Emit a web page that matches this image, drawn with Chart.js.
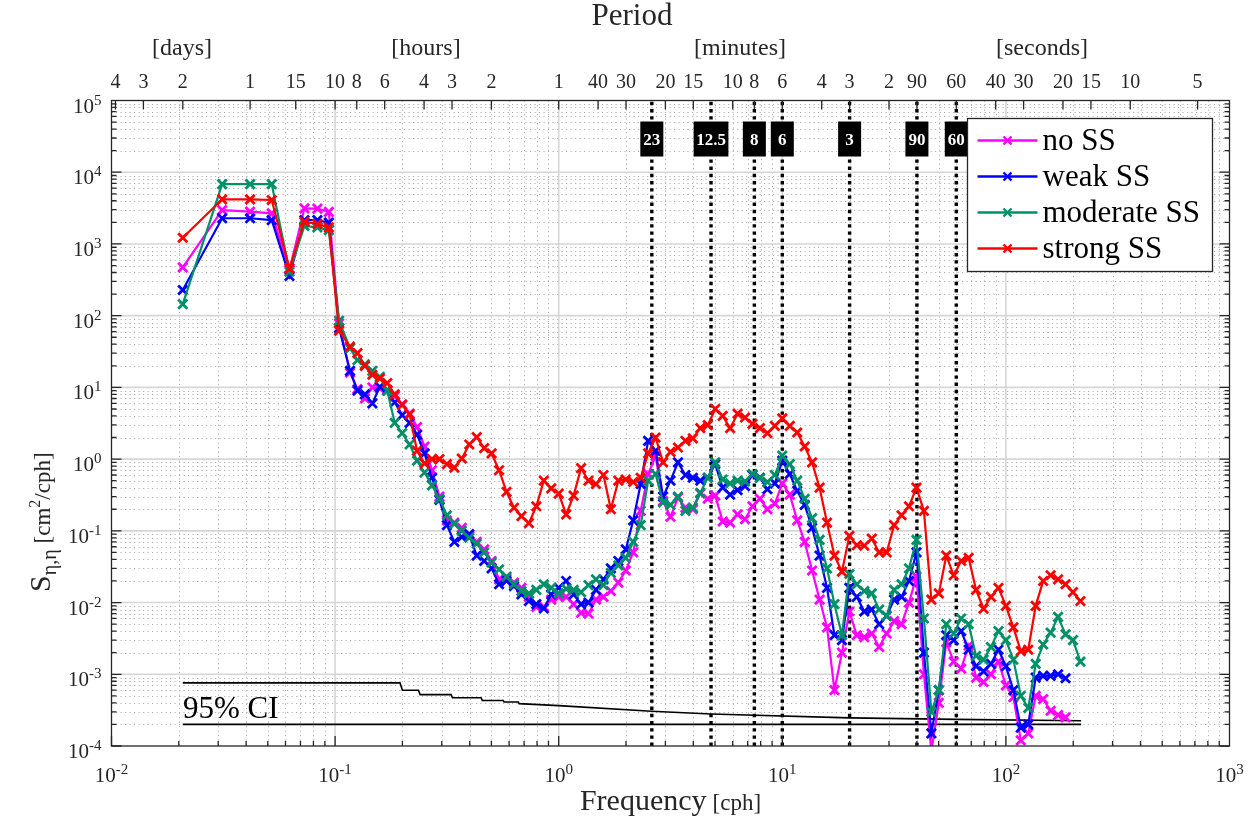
<!DOCTYPE html>
<html>
<head>
<meta charset="utf-8">
<script src="https://cdn.jsdelivr.net/npm/chart.js@4.4.1/dist/chart.umd.min.js"></script>
<style>
  html, body { margin: 0; padding: 0; background: #fff; }
  #wrap { width: 1255px; height: 822px; }
</style>
</head>
<body>
<div id="wrap"><canvas id="spec" width="1255" height="822"></canvas></div>
<script>
// frequency grid [cph]
const freqCph = [
  0.02083, 0.03125, 0.04167, 0.05208, 0.0625, 0.07292, 0.08333, 0.09375, 0.1042,
  0.1166, 0.1259, 0.1359, 0.1468, 0.1585, 0.1711, 0.1848, 0.1995, 0.2154, 0.2326,
  0.2512, 0.2712, 0.2929, 0.3162, 0.3415, 0.3687, 0.3981, 0.4299, 0.4642, 0.5012,
  0.5412, 0.5843, 0.6310, 0.6813, 0.7356, 0.7943, 0.8577, 0.9261,
  1.000, 1.080, 1.166, 1.259, 1.359, 1.468, 1.585, 1.711, 1.848, 1.995,
  2.154, 2.326, 2.512, 2.712, 2.929, 3.162, 3.415, 3.687, 3.981, 4.299,
  4.642, 5.012, 5.412, 5.843, 6.310, 6.813, 7.356, 7.943, 8.577, 9.261,
  10.00, 10.80, 11.66, 12.59, 13.59, 14.68, 15.85, 17.11, 18.48, 19.95,
  21.54, 23.26, 25.12, 27.12, 29.29, 31.62, 34.15, 36.87, 39.81, 42.99,
  46.42, 50.12, 54.12, 58.43, 63.10, 68.13, 73.56, 79.43, 85.77, 92.61,
  100.0, 108.0, 116.6, 125.9, 135.9, 146.8, 158.5, 171.1, 184.8, 199.5, 215.4
];

const noSS = [
  472, 2970, 2820, 2670, 432, 3140, 3100, 2800, 78,
  16, 9.5, 7, 10, 9.7, 9.2, 7.5, 5.8, 4.3, 2.8,
  1.5, 0.7, 0.3, 0.14, 0.13, 0.11, 0.085, 0.07, 0.055, 0.038,
  0.021, 0.0215, 0.019, 0.016, 0.012, 0.0087, 0.0087, 0.011,
  0.012, 0.012, 0.0095, 0.0072, 0.007, 0.011, 0.012, 0.0145, 0.019, 0.028,
  0.05, 0.19, 0.62, 1.1, 0.26, 0.157, 0.29, 0.21, 0.2, 0.33,
  0.28, 0.31, 0.135, 0.13, 0.17, 0.145, 0.22, 0.28, 0.2, 0.24,
  0.46, 0.32, 0.14, 0.07, 0.028, 0.011, 0.0045, 0.0006, 0.002, 0.0075,
  0.0035, 0.0033, 0.0037, 0.0024, 0.0037, 0.0055, 0.005, 0.01, 0.023, 0.001,
  0.000085, 0.0004, 0.0028, 0.0015, 0.0012, 0.0025, 0.0009, 0.00078, 0.001, 0.0015,
  0.0007, 0.00048, 0.00012, 0.00015, 0.0005, 0.00045, 0.00031, 0.00027, 0.00025, null, null
];

const weakSS = [
  228, 2280, 2280, 2150, 357, 2150, 2150, 1980, 67,
  17, 9.0, 8.0, 6.0, 10.2, 9, 6.2, 4.1, 3.2, 2.2,
  1.2, 0.55, 0.27, 0.12, 0.07, 0.082, 0.09, 0.045, 0.038, 0.03,
  0.018, 0.02, 0.017, 0.013, 0.0105, 0.0095, 0.0083, 0.013,
  0.016, 0.02, 0.013, 0.0095, 0.01, 0.015, 0.021, 0.03, 0.038, 0.055,
  0.14, 0.45, 1.8, 1.3, 0.3, 0.5, 0.9, 0.6, 0.55, 0.5,
  0.55, 0.85, 0.4, 0.32, 0.37, 0.42, 0.6, 0.55, 0.38, 0.46,
  0.95, 0.62, 0.36, 0.23, 0.11, 0.045, 0.016, 0.0035, 0.003, 0.016,
  0.012, 0.0075, 0.008, 0.005, 0.0065, 0.011, 0.012, 0.02, 0.05, 0.002,
  0.00015, 0.0006, 0.0035, 0.003, 0.004, 0.0022, 0.0013, 0.0011, 0.0014, 0.0022,
  0.0013, 0.0006, 0.00018, 0.0002, 0.0009, 0.00095, 0.00095, 0.001, 0.00088, null, null
];

const moderateSS = [
  145, 6840, 6840, 6840, 410, 1780, 1700, 1560, 85,
  35, 24, 21, 17, 14, 9, 3.2, 2.3, 1.6, 0.95,
  0.65, 0.43, 0.28, 0.165, 0.125, 0.1, 0.08, 0.066, 0.05, 0.036,
  0.029, 0.023, 0.018, 0.0145, 0.0134, 0.015, 0.018, 0.016,
  0.0134, 0.0155, 0.015, 0.014, 0.0175, 0.021, 0.0175, 0.026, 0.033, 0.042,
  0.07, 0.12, 0.5, 0.62, 0.25, 0.23, 0.3, 0.19, 0.21, 0.34,
  0.55, 0.9, 0.52, 0.46, 0.5, 0.49, 0.62, 0.55, 0.48, 0.6,
  1.12, 0.85, 0.5, 0.28, 0.15, 0.075, 0.03, 0.0095, 0.0035, 0.025,
  0.018, 0.0145, 0.0134, 0.008, 0.0065, 0.015, 0.018, 0.03, 0.075, 0.006,
  0.0003, 0.0006, 0.005, 0.0037, 0.006, 0.005, 0.0018, 0.0016, 0.0024, 0.004,
  0.003, 0.0016, 0.0005, 0.00034, 0.0014, 0.0026, 0.0038, 0.0063, 0.0036, 0.003, 0.0015
];

const strongSS = [
  1220, 4190, 4190, 4100, 457, 2040, 1900, 1700, 62,
  37, 30, 20, 15, 13.3, 11.5, 8, 5.7, 4.2, 1.3,
  0.87, 1.0, 1.0, 0.85, 0.76, 1.02, 1.6, 2.02, 1.42, 1.2,
  0.7, 0.35, 0.21, 0.16, 0.128, 0.22, 0.5, 0.39,
  0.33, 0.17, 0.31, 0.75, 0.5, 0.45, 0.6, 0.2, 0.5, 0.52,
  0.48, 0.55, 1.2, 2.0, 0.9, 1.26, 1.45, 1.8, 1.95, 2.7,
  2.98, 5.0, 4.0, 2.7, 4.3, 3.8, 3.1, 2.7, 2.3, 2.9,
  3.7, 2.9, 2.35, 1.5, 0.9, 0.4, 0.13, 0.045, 0.027, 0.085,
  0.063, 0.062, 0.078, 0.05, 0.05, 0.12, 0.165, 0.22, 0.4, 0.19,
  0.011, 0.0134, 0.045, 0.024, 0.038, 0.042, 0.015, 0.0082, 0.012, 0.016,
  0.009, 0.0045, 0.0021, 0.0022, 0.009, 0.02, 0.024, 0.021, 0.018, 0.014, 0.0105
];

// 95% confidence interval bars
const ciFreq = [0.02083, 0.195, 0.2, 0.236, 0.24, 0.33, 0.335, 0.45, 0.455, 0.565, 0.57, 0.66, 0.665, 1.0, 2.6, 4.8, 20, 60, 217];
const ciUpper = [7.6e-4, 7.6e-4, 6.0e-4, 6.0e-4, 5.2e-4, 5.2e-4, 4.7e-4, 4.7e-4, 4.3e-4, 4.3e-4, 4.1e-4, 4.1e-4, 3.9e-4, 3.65e-4, 3.05e-4, 2.8e-4, 2.47e-4, 2.35e-4, 2.25e-4];
const ciLowFreq = [0.02083, 217];
const ciLower = [2.0e-4, 2.0e-4];

// marked periods (dotted lines)
const markFreq = [2.609, 4.8, 7.5, 10, 20, 40, 60];
const markLabels = ['23', '12.5', '8', '6', '3', '90', '60'];

// top axis period ticks
const periodDays = [4, 3, 2, 1];
const periodHours = [15, 10, 8, 6, 4, 3, 2, 1];
const periodMinutes = [40, 30, 20, 15, 10, 8, 6, 4, 3, 2];
const periodSeconds = [90, 60, 40, 30, 20, 15, 10, 5];

const FONT = '"Liberation Serif", "Times New Roman", serif';
const INK = '#262626';

const series = [
  { label: 'no SS', values: noSS, color: '#ff00ff', order: 4 },
  { label: 'weak SS', values: weakSS, color: '#0000ff', order: 3 },
  { label: 'moderate SS', values: moderateSS, color: '#009068', order: 2 },
  { label: 'strong SS', values: strongSS, color: '#ff0000', order: 1 }
];

function seg(ctx, x1, y1, x2, y2) {
  ctx.beginPath();
  ctx.moveTo(x1, y1);
  ctx.lineTo(x2, y2);
  ctx.stroke();
}

function pow10Label(ctx, n, x, yBase, align) {
  ctx.font = '21px ' + FONT;
  const bw = ctx.measureText('10').width;
  ctx.font = '15px ' + FONT;
  const sw = ctx.measureText(String(n)).width;
  const x0 = align === 'right' ? x - bw - sw : x - (bw + sw) / 2;
  ctx.textAlign = 'left';
  ctx.textBaseline = 'alphabetic';
  ctx.font = '21px ' + FONT;
  ctx.fillText('10', x0, yBase);
  ctx.font = '15px ' + FONT;
  ctx.fillText(String(n), x0 + bw, yBase - 8);
}

const framePlugin = {
  id: 'frame',
  beforeDatasetsDraw(chart) {
    const { ctx, chartArea: a } = chart;
    const xs = chart.scales.x, ys = chart.scales.y;
    ctx.save();
    // minor grid
    ctx.lineWidth = 1;
    ctx.strokeStyle = '#b0b0b0';
    ctx.setLineDash([1.2, 3.3]);
    for (let d = -2; d < 3; d++) {
      for (let m = 2; m <= 9; m++) {
        const px = Math.round(xs.getPixelForValue(m * Math.pow(10, d))) + 0.5;
        seg(ctx, px, a.top, px, a.bottom);
      }
    }
    for (let d = -4; d < 5; d++) {
      for (let m = 2; m <= 9; m++) {
        const py = Math.round(ys.getPixelForValue(m * Math.pow(10, d))) + 0.5;
        seg(ctx, a.left, py, a.right, py);
      }
    }
    // major grid
    ctx.setLineDash([]);
    ctx.strokeStyle = '#d6d6d6';
    ctx.lineWidth = 1.6;
    for (let d = -1; d < 3; d++) {
      const px = xs.getPixelForValue(Math.pow(10, d));
      seg(ctx, px, a.top, px, a.bottom);
    }
    for (let d = -3; d < 5; d++) {
      const py = ys.getPixelForValue(Math.pow(10, d));
      seg(ctx, a.left, py, a.right, py);
    }
    // marked periods
    ctx.strokeStyle = '#000';
    ctx.lineWidth = 3.4;
    ctx.setLineDash([3.4, 3.8]);
    markFreq.forEach(f => {
      const px = xs.getPixelForValue(f);
      seg(ctx, px, a.bottom, px, a.top);
    });
    ctx.restore();
  },
  afterDatasetsDraw(chart) {
    const { ctx, chartArea: a } = chart;
    const xs = chart.scales.x, ys = chart.scales.y;
    ctx.save();

    // labels of the marked periods
    ctx.font = 'bold 17px ' + FONT;
    ctx.textAlign = 'center';
    ctx.textBaseline = 'middle';
    markFreq.forEach((f, i) => {
      const px = xs.getPixelForValue(f);
      const w = Math.max(23, ctx.measureText(markLabels[i]).width + 5);
      ctx.fillStyle = '#000';
      ctx.fillRect(px - w / 2, a.top + 21, w, 35);
      ctx.fillStyle = '#fff';
      ctx.fillText(markLabels[i], px, a.top + 40);
    });

    // CI label
    ctx.fillStyle = '#000';
    ctx.font = '31px ' + FONT;
    ctx.textAlign = 'left';
    ctx.textBaseline = 'alphabetic';
    ctx.fillText('95% CI', 183, 718);

    // axes box and ticks
    ctx.strokeStyle = INK;
    ctx.lineWidth = 1.3;
    ctx.strokeRect(a.left, a.top, a.right - a.left, a.bottom - a.top);
    ctx.beginPath();
    for (let d = -2; d <= 2; d++) {
      for (let m = 1; m <= 9; m++) {
        const px = xs.getPixelForValue(m * Math.pow(10, d));
        const len = m === 1 ? 10 : 5;
        ctx.moveTo(px, a.bottom);
        ctx.lineTo(px, a.bottom - len);
      }
    }
    for (let d = -4; d <= 4; d++) {
      for (let m = 1; m <= 9; m++) {
        const py = ys.getPixelForValue(m * Math.pow(10, d));
        const len = m === 1 ? 10 : 5;
        ctx.moveTo(a.left, py);
        ctx.lineTo(a.left + len, py);
        ctx.moveTo(a.right, py);
        ctx.lineTo(a.right - len, py);
      }
    }
    ctx.stroke();

    // top period axis
    const periodTicks = [];
    periodDays.forEach(v => periodTicks.push([1 / (24 * v), v]));
    periodHours.forEach(v => periodTicks.push([1 / v, v]));
    periodMinutes.forEach(v => periodTicks.push([60 / v, v]));
    periodSeconds.forEach(v => periodTicks.push([3600 / v, v]));
    ctx.beginPath();
    periodTicks.forEach(([f]) => {
      const px = xs.getPixelForValue(f);
      ctx.moveTo(px, a.top);
      ctx.lineTo(px, a.top + 9);
    });
    ctx.stroke();
    ctx.fillStyle = INK;
    ctx.font = '20px ' + FONT;
    ctx.textAlign = 'center';
    ctx.textBaseline = 'alphabetic';
    periodTicks.forEach(([f, v]) => {
      ctx.fillText(String(v), xs.getPixelForValue(f), a.top - 13);
    });
    ctx.font = '24px ' + FONT;
    ctx.fillText('[days]', 182, 55);
    ctx.fillText('[hours]', 426, 55);
    ctx.fillText('[minutes]', 740, 55);
    ctx.fillText('[seconds]', 1042, 55);
    ctx.font = '31px ' + FONT;
    ctx.fillText('Period', 632, 25);

    // tick labels
    for (let n = -4; n <= 5; n++) {
      pow10Label(ctx, n, a.left - 10, ys.getPixelForValue(Math.pow(10, n)) + 12, 'right');
    }
    for (let n = -2; n <= 3; n++) {
      pow10Label(ctx, n, xs.getPixelForValue(Math.pow(10, n)), a.bottom + 36, 'center');
    }

    // x title
    ctx.textAlign = 'left';
    ctx.font = '30px ' + FONT;
    const wF = ctx.measureText('Frequency').width;
    ctx.font = '23px ' + FONT;
    const wC = ctx.measureText('[cph]').width;
    const xStart = (a.left + a.right) / 2 - (wF + 6 + wC) / 2;
    ctx.font = '30px ' + FONT;
    ctx.fillText('Frequency', xStart, 810);
    ctx.font = '23px ' + FONT;
    ctx.fillText('[cph]', xStart + wF + 6, 810);

    // y title (rotated)
    ctx.save();
    ctx.translate(50, 592);
    ctx.rotate(-Math.PI / 2);
    let tx = 0;
    ctx.font = '30px ' + FONT;
    ctx.fillText('S', tx, 0);
    tx += ctx.measureText('S').width;
    ctx.font = '20px ' + FONT;
    ctx.fillText('\u03b7,\u03b7', tx, 6);
    tx += ctx.measureText('\u03b7,\u03b7').width + 6;
    ctx.font = '23px ' + FONT;
    ctx.fillText('[cm', tx, 0);
    tx += ctx.measureText('[cm').width;
    ctx.font = '16px ' + FONT;
    ctx.fillText('2', tx, -10);
    tx += ctx.measureText('2').width;
    ctx.font = '23px ' + FONT;
    ctx.fillText('/cph]', tx, 0);
    ctx.restore();

    // legend
    const lx = a.right - 262, ly = a.top + 18, lw = 245, lh = 153;
    ctx.fillStyle = '#fff';
    ctx.fillRect(lx, ly, lw, lh);
    ctx.strokeStyle = INK;
    ctx.lineWidth = 1.3;
    ctx.strokeRect(lx, ly, lw, lh);
    ctx.font = '31px ' + FONT;
    ctx.textBaseline = 'middle';
    series.forEach((s, i) => {
      const ry = ly + 22 + i * 36;
      ctx.strokeStyle = s.color;
      ctx.lineWidth = 2.4;
      seg(ctx, lx + 10, ry, lx + 70, ry);
      seg(ctx, lx + 36, ry - 4, lx + 44, ry + 4);
      seg(ctx, lx + 36, ry + 4, lx + 44, ry - 4);
      ctx.fillStyle = '#000';
      ctx.fillText(s.label, lx + 75, ry + 1);
    });

    ctx.restore();
  }
};

const datasets = series.map(s => ({
  label: s.label,
  data: freqCph.map((f, i) => ({ x: f, y: s.values[i] })),
  borderColor: s.color,
  backgroundColor: s.color,
  borderWidth: 2.2,
  pointStyle: 'crossRot',
  pointRadius: 6.5,
  pointBorderWidth: 2.8,
  pointBorderColor: s.color,
  fill: false,
  tension: 0,
  spanGaps: false,
  order: s.order
}));

datasets.push({
  label: 'CI upper',
  data: ciFreq.map((f, i) => ({ x: f, y: ciUpper[i] })),
  borderColor: '#000',
  borderWidth: 1.6,
  pointRadius: 0,
  fill: false,
  order: 6
});
datasets.push({
  label: 'CI lower',
  data: ciLowFreq.map((f, i) => ({ x: f, y: ciLower[i] })),
  borderColor: '#000',
  borderWidth: 1.6,
  pointRadius: 0,
  fill: false,
  order: 6
});

new Chart(document.getElementById('spec'), {
  type: 'line',
  data: { datasets: datasets },
  options: {
    responsive: false,
    animation: false,
    layout: { padding: { left: 111.5, right: 25.5, top: 100.5, bottom: 76 } },
    scales: {
      x: { type: 'logarithmic', min: 0.01, max: 1000, display: false },
      y: { type: 'logarithmic', min: 1e-4, max: 1e5, display: false }
    },
    plugins: {
      legend: { display: false },
      tooltip: { enabled: false }
    }
  },
  plugins: [framePlugin]
});
</script>
</body>
</html>
